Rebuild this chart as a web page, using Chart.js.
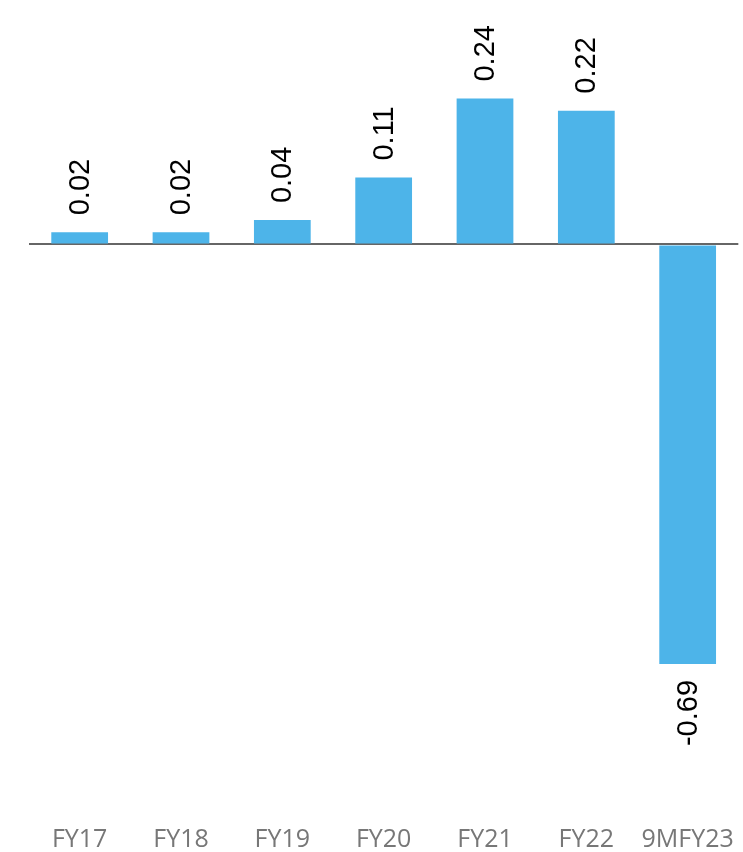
<!DOCTYPE html>
<html>
<head>
<meta charset="utf-8">
<script src="https://cdn.jsdelivr.net/npm/chart.js@4/dist/chart.umd.min.js"></script>
<style>
  html, body { margin: 0; padding: 0; background: #fff; }
  #wrap { width: 743px; height: 852px; }
</style>
</head>
<body>
<div id="wrap"><canvas id="epsChart"></canvas></div>
<script>
const years = ['FY17', 'FY18', 'FY19', 'FY20', 'FY21', 'FY22', '9MFY23'];
const values = [0.02, 0.02, 0.04, 0.11, 0.24, 0.22, -0.69];

// value labels, rotated, above positive bars and below negative ones
const barLabels = {
  id: 'barLabels',
  afterDatasetsDraw(chart) {
    const ctx = chart.ctx;
    const meta = chart.getDatasetMeta(0);
    ctx.save();
    ctx.font = '29px "Liberation Sans", Arial, sans-serif';
    ctx.fillStyle = '#000';
    ctx.textBaseline = 'middle';
    meta.data.forEach((bar, i) => {
      const v = values[i];
      ctx.save();
      if (v >= 0) {
        ctx.translate(bar.x, bar.y - 17);
        ctx.rotate(-Math.PI / 2);
        ctx.textAlign = 'left';
      } else {
        ctx.translate(bar.x, bar.y + 16);
        ctx.rotate(-Math.PI / 2);
        ctx.textAlign = 'right';
      }
      ctx.fillText(v.toFixed(2), 0, 1);
      ctx.restore();
    });
    ctx.restore();
  }
};

const epsChart = new Chart(document.getElementById('epsChart'), {
  type: 'bar',
  data: {
    labels: years,
    datasets: [{
      data: values,
      backgroundColor: '#4DB4E9',
      barPercentage: 0.56,
      categoryPercentage: 1
    }]
  },
  options: {
    responsive: true,
    maintainAspectRatio: false,
    animation: false,
    layout: { padding: { left: 29, right: 3, top: 0, bottom: 0 } },
    plugins: {
      legend: { display: false },
      tooltip: { enabled: false }
    },
    scales: {
      x: {
        grid: { display: false, drawTicks: false },
        border: { display: false },
        afterFit: s => { s.height = 36; },
        ticks: {
          color: '#777',
          padding: 9,
          maxRotation: 0,
          minRotation: 0,
          autoSkip: false,
          font: { family: '"Open Sans", sans-serif', size: 25 }
        }
      },
      y: {
        min: -0.94,
        max: 0.402,
        border: { display: false },
        ticks: { display: false, stepSize: 0.1 },
        grid: {
          drawTicks: false,
          lineWidth: 2,
          color: c => (Math.abs(c.tick.value) < 1e-9 ? '#666' : 'rgba(0,0,0,0)')
        }
      }
    }
  },
  plugins: [barLabels]
});
</script>
</body>
</html>
